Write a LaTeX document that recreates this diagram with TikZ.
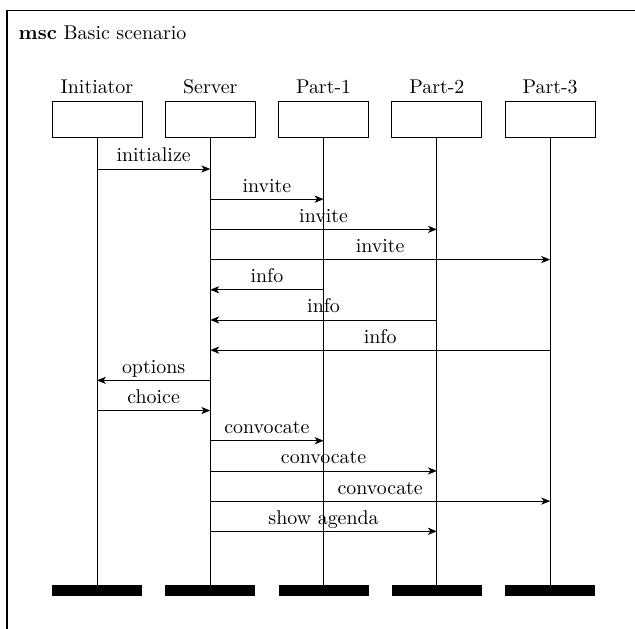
\documentclass[tikz,border=0pt]{standalone}
\usetikzlibrary{arrows.meta}

\begin{document}
\begin{tikzpicture}[
  head/.style={draw, minimum width=1.59cm, minimum height=0.644cm, inner sep=0pt},
  foot/.style={fill=black, minimum width=1.59cm, minimum height=0.194cm, inner sep=0pt},
  instname/.style={anchor=base, inner sep=0pt},
  msglbl/.style={above, text depth=0pt},
  msg/.style={-{Stealth[length=4.5pt, width=3.6pt, inset=1.3pt]}},
  frame/.style={line width=0.6pt},
]
  \useasboundingbox (0,0) rectangle (11.21,-11.10);

  % frame and title
  \draw[frame] (0.124,-11.3) |- (11.4,-0.185);
  \node[anchor=base west, inner sep=0pt] (title) at (0.323,-0.694) {\textbf{msc} Basic scenario};

  % instances
  \foreach \n [count=\i from 0] in {Initiator,Server,Part-1,Part-2,Part-3} {
    \node[instname] (nm\i) at (1.712+2*\i, -1.659) {\n};
    \node[head]     (hd\i) at (1.712+2*\i, -2.105) {};
    \node[foot]     (ft\i) at (1.712+2*\i, -10.424) {};
    \draw (hd\i.south) -- (ft\i.north);
  }

  % messages
  \foreach \s/\t/\lbl [count=\k from 0] in {
      0/1/initialize, 1/2/invite, 1/3/invite, 1/4/invite,
      2/1/info, 3/1/info, 4/1/info, 1/0/options, 0/1/choice,
      1/2/convocate, 1/3/convocate, 1/4/convocate, 1/3/show agenda} {
    \pgfmathsetmacro\my{-2.983-0.533*\k}
    \coordinate (m\k a) at (hd\s.south |- 0,\my);
    \coordinate (m\k b) at (hd\t.south |- 0,\my);
    \draw[msg] (m\k a) -- node[msglbl] {\lbl} (m\k b);
  }
\end{tikzpicture}
\end{document}
